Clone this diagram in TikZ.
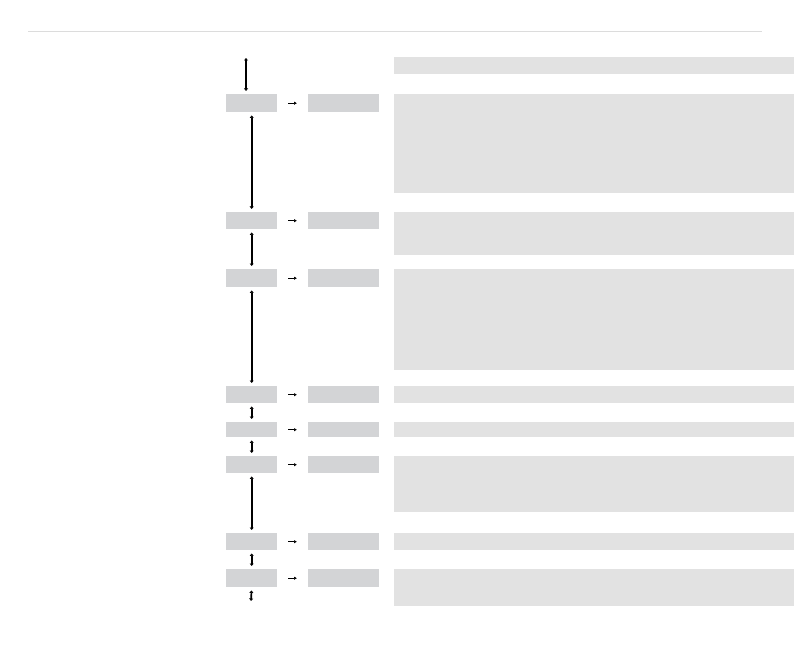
\documentclass[tikz,border=0pt]{standalone}
\usetikzlibrary{arrows.meta}
\definecolor{RuleGray}{HTML}{DCDCDC}
\definecolor{StepGray}{HTML}{D3D4D6}
\definecolor{NoteGray}{HTML}{E2E2E2}
\tikzset{
  stepbox/.style={fill=StepGray, inner sep=0pt, anchor=north west},
  notebox/.style={fill=NoteGray, inner sep=0pt, anchor=north west},
  link/.style={{Latex[length=2.5pt,width=4.5pt]}-{Latex[length=2.5pt,width=4.5pt]}, line width=1.7pt, shorten <=3pt, shorten >=3pt},
  nextarrow/.style={-{Latex[length=3pt,width=3.5pt]}, line width=1.1pt, shorten <=11pt, shorten >=11pt}
}

\begin{document}
\begin{tikzpicture}[x=1pt,y=-1pt]
  \useasboundingbox (0,0) rectangle (794,652);
  \draw[RuleGray, line width=0.8pt] (28,31) -- (762,31);
  % first note, no step beside it
  \node[notebox, minimum width=400pt, minimum height=17pt] (c0) at (394,57) {};
  % rows: index/top/step height/note height
  \foreach \i/\t/\h/\c in {1/94/18/99, 2/212/17/43, 3/269/18/101, 4/386/17/17,
                          5/422/15/15, 6/456/17/56, 7/533/17/17, 8/569/18/37} {
    \node[stepbox, minimum width=51pt, minimum height=\h pt] (a\i) at (226,\t) {};
    \node[stepbox, minimum width=71pt, minimum height=\h pt] (b\i) at (308,\t) {};
    \node[notebox, minimum width=400pt, minimum height=\c pt] (c\i) at (394,\t) {};
    \draw[nextarrow] (a\i) -- (b\i);
  }
  \foreach \i [evaluate=\i as \j using int(\i+1)] in {1,...,7}
    \draw[link] (a\i.south) -- (a\j.north);
  \coordinate (start) at (246,58);
  \coordinate (tail) at (251,601);
  \draw[link, shorten <=0pt] (start) -- (start |- a1.north);
  \draw[link, shorten >=0pt] (a8.south) -- (tail);
\end{tikzpicture}
\end{document}
